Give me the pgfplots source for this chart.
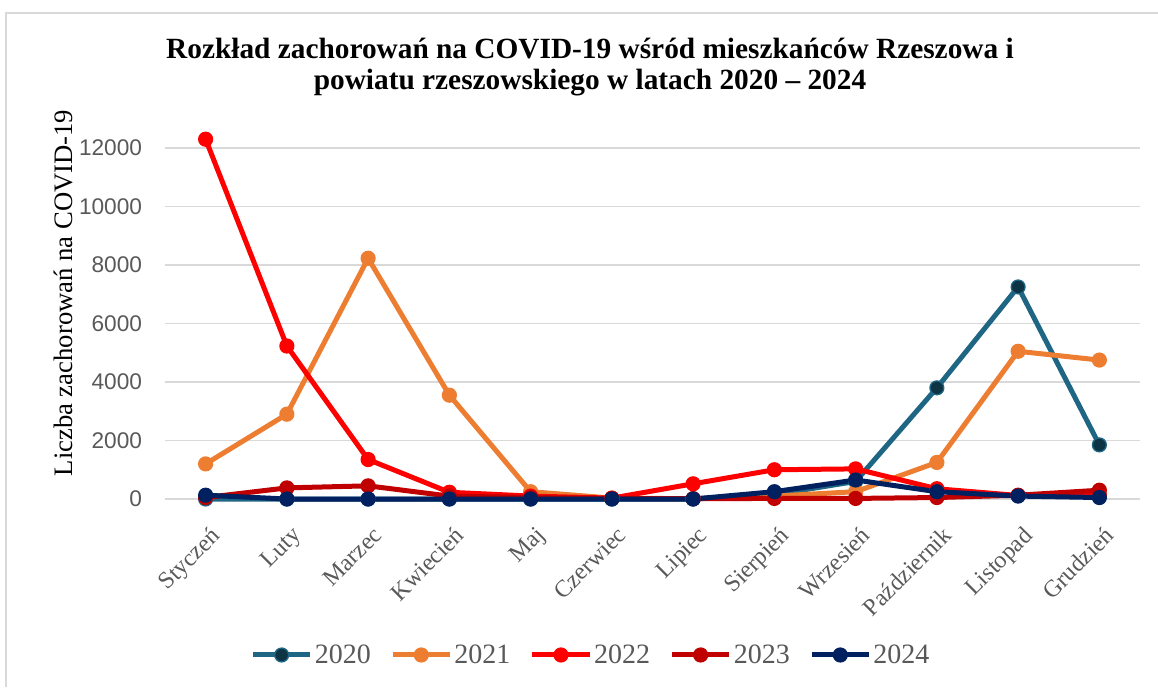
\documentclass[border=0pt]{standalone}
\usepackage{fontspec}
\setmainfont{Liberation Serif}
\newfontfamily\sansf{Liberation Sans}
\usepackage{pgfplots}
\pgfplotsset{compat=1.18}

\definecolor{c20}{HTML}{1F6685}
\definecolor{c20m}{HTML}{0D3444}
\definecolor{c21}{HTML}{ED7D31}
\definecolor{c22}{HTML}{FF0000}
\definecolor{c23}{HTML}{C00000}
\definecolor{c24}{HTML}{002060}
\definecolor{txt}{HTML}{595959}
\definecolor{grd}{HTML}{D9D9D9}

\begin{document}
\begin{tikzpicture}
\useasboundingbox (0,0) rectangle (868.5pt,515.25pt);
% ramka wykresu (widoczna lewa i gorna krawedz)
\draw[grd, line width=1.1pt] (4.5pt,0) -- (4.5pt,505.5pt) -- (868.5pt,505.5pt);

\node[anchor=base, font=\bfseries\fontsize{22}{26}\selectfont] at (442.5pt,471pt)
  {Rozkład zachorowań na COVID-19 wśród mieszkańców Rzeszowa i};
\node[anchor=base, font=\bfseries\fontsize{22}{26}\selectfont] at (442.5pt,447.75pt)
  {powiatu rzeszowskiego w latach 2020 – 2024};
\node[rotate=90, anchor=base, font=\fontsize{20}{24}\selectfont] at (54pt,295.5pt)
  {Liczba zachorowań na COVID-19};

\begin{axis}[
  at={(123.75pt,141pt)}, anchor=south west,
  scale only axis, width=731.25pt, height=263.25pt,
  xmin=-0.5, xmax=11.5, ymin=0, ymax=12000,
  clip=false,
  axis line style={draw=none},
  major tick length=0pt,
  xtick={0,...,11},
  xticklabels={Styczeń,Luty,Marzec,Kwiecień,Maj,Czerwiec,Lipiec,Sierpień,Wrzesień,Październik,Listopad,Grudzień},
  xticklabel style={xshift=3pt, yshift=-19.5pt, rotate=45, anchor=north east, inner sep=0pt,
    font=\fontsize{18}{20}\selectfont, text=txt},
  ytick={0,2000,4000,6000,8000,10000,12000},
  scaled y ticks=false,
  yticklabel style={inner sep=0pt, xshift=-17pt, font=\sansf\fontsize{17}{19}\selectfont, text=txt},
  /pgf/number format/assume math mode=true,
  /pgf/number format/1000 sep={},
  ymajorgrids=true,
  grid style={grd, line width=1.1pt},
  every axis plot/.append style={line width=3.75pt, mark=*, mark size=5.2pt},
  legend columns=5,
  legend cell align=left,
  legend style={at={(0.4369,-0.4444)}, anchor=center, draw=none,
    font=\fontsize{21}{24}\selectfont, text=txt,
    nodes={inner xsep=1.5pt},
    /tikz/every even column/.append style={column sep=13pt}},
  legend image code/.code={\draw[mark repeat=2, mark phase=2, #1]
    plot coordinates {(0pt,0pt) (21.5pt,0pt) (43pt,0pt)};},
]
% 2020
\addplot[color=c20, mark options={fill=c20m, draw=c20, line width=1pt}] coordinates {
  (0,0) (1,0) (2,0) (3,0) (4,0) (5,0) (6,0) (7,150) (8,600) (9,3800) (10,7250) (11,1850)};
% 2021
\addplot[color=c21, mark options={fill=c21, line width=1pt}] coordinates {
  (0,1200) (1,2900) (2,8230) (3,3550) (4,250) (5,30) (6,10) (7,100) (8,250) (9,1250) (10,5050) (11,4750)};
% 2022
\addplot[color=c22, mark options={fill=c22, line width=1pt}] coordinates {
  (0,12300) (1,5230) (2,1350) (3,230) (4,100) (5,30) (6,520) (7,1000) (8,1030) (9,350) (10,120) (11,130)};
% 2023
\addplot[color=c23, mark options={fill=c23, line width=1pt}] coordinates {
  (0,50) (1,380) (2,450) (3,100) (4,50) (5,20) (6,10) (7,20) (8,20) (9,50) (10,130) (11,300)};
% 2024
\addplot[color=c24, mark options={fill=c24, line width=1pt}] coordinates {
  (0,130) (1,0) (2,0) (3,0) (4,0) (5,0) (6,0) (7,250) (8,650) (9,250) (10,100) (11,50)};
\legend{2020,2021,2022,2023,2024}
\end{axis}
\end{tikzpicture}
\end{document}
